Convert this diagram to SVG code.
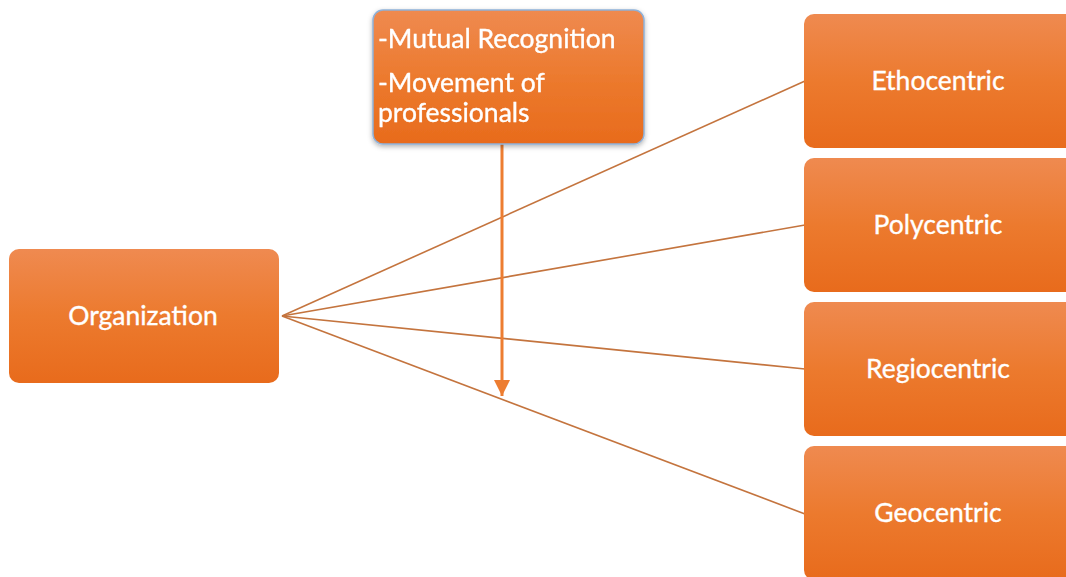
<svg xmlns="http://www.w3.org/2000/svg" width="1066" height="577" viewBox="0 0 1066 577">
  <defs>
    <linearGradient id="fill" x1="0" y1="0" x2="0" y2="1">
      <stop offset="0" stop-color="#ef8a50"/>
      <stop offset="0.5" stop-color="#ec7a2e"/>
      <stop offset="1" stop-color="#e86b1c"/>
    </linearGradient>
    <filter id="shadow" x="-10%" y="-10%" width="120%" height="130%">
      <feDropShadow dx="0" dy="2" stdDeviation="2.5" flood-color="#000" flood-opacity="0.3"/>
    </filter>
    <marker id="arrow" viewBox="0 0 16 16" refX="16" refY="8" markerWidth="16" markerHeight="16" markerUnits="userSpaceOnUse" orient="auto">
      <path d="M0,0 L16,8 L0,16 Z" fill="#ed7d31"/>
    </marker>
  </defs>
  <style>
    .box { fill: url(#fill); }
    .label { font-family: Lato, "Liberation Sans", sans-serif; font-size: 26.5px; fill: #ffffff; stroke: #ffffff; stroke-width: 0.35; }
    .mid { text-anchor: middle; }
    .link { stroke: #c4743e; stroke-width: 1.6; fill: none; }
  </style>
  <rect width="1066" height="577" fill="#ffffff"/>

  <g id="connectors">
    <line class="link" x1="282" y1="316" x2="805" y2="81"/>
    <line class="link" x1="282" y1="316" x2="805" y2="225"/>
    <line class="link" x1="282" y1="316" x2="805" y2="369"/>
    <line class="link" x1="282" y1="316" x2="805" y2="514"/>
    <line x1="502" y1="144" x2="502" y2="396" stroke="#ed7d31" stroke-width="3" marker-end="url(#arrow)"/>
  </g>

  <g id="organization">
    <rect class="box" x="9" y="249" width="270" height="134" rx="10"/>
    <text class="label mid" x="143" y="325">Organization</text>
  </g>

  <g id="agreements" filter="url(#shadow)">
    <rect class="box" x="373" y="10" width="271" height="134" rx="10" stroke="#8fb1d8" stroke-width="1.5"/>
    <text class="label" x="378" y="48">-Mutual Recognition</text>
    <text class="label" x="378" y="92">-Movement of</text>
    <text class="label" x="378" y="122">professionals</text>
  </g>

  <g id="ethocentric">
    <rect class="box" x="804" y="14" width="276" height="134" rx="10"/>
    <text class="label mid" x="938" y="90">Ethocentric</text>
  </g>

  <g id="polycentric">
    <rect class="box" x="804" y="158" width="276" height="134" rx="10"/>
    <text class="label mid" x="938" y="234">Polycentric</text>
  </g>

  <g id="regiocentric">
    <rect class="box" x="804" y="302" width="276" height="134" rx="10"/>
    <text class="label mid" x="938" y="378">Regiocentric</text>
  </g>

  <g id="geocentric">
    <rect class="box" x="804" y="446" width="276" height="134" rx="10"/>
    <text class="label mid" x="938" y="522">Geocentric</text>
  </g>
</svg>
